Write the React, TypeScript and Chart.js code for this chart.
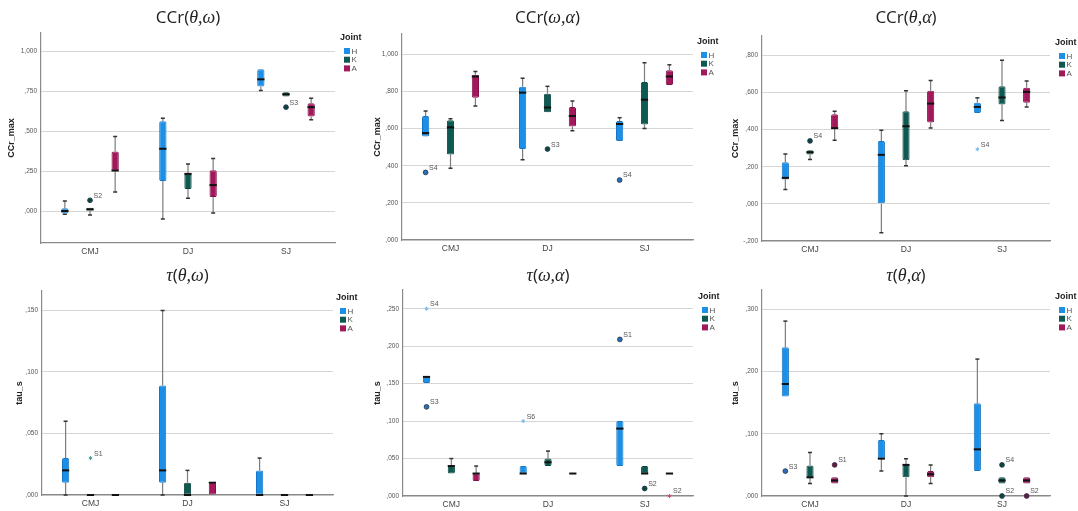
import React, { useEffect, useRef } from "react";
import { Chart, registerables } from "chart.js";
Chart.register(...registerables);

// ---------- DATA ----------
const categories = ["CMJ", "DJ", "SJ"];
const joints = ["H", "K", "A"];

// five-number summaries [min, q1, median, q3, max] for CMJ, DJ, SJ
const ccrThetaOmegaH = [[-0.02, -0.015, 0.0, 0.017, 0.062], [-0.05, 0.187, 0.389, 0.561, 0.58], [0.753, 0.778, 0.823, 0.886, 0.886]];
const ccrThetaOmegaK = [[-0.025, 0.0, 0.01, 0.02, 0.02], [0.079, 0.137, 0.232, 0.233, 0.293], [0.715, 0.715, 0.73, 0.742, 0.742]];
const ccrThetaOmegaA = [[0.118, 0.252, 0.253, 0.372, 0.466], [-0.012, 0.087, 0.162, 0.254, 0.328], [0.57, 0.59, 0.649, 0.674, 0.705]];

const ccrOmegaAlphaH = [[0.558, 0.558, 0.576, 0.668, 0.695], [0.433, 0.49, 0.794, 0.826, 0.871], [0.533, 0.533, 0.625, 0.641, 0.659]];
const ccrOmegaAlphaK = [[0.386, 0.461, 0.607, 0.645, 0.653], [0.689, 0.689, 0.714, 0.788, 0.828], [0.601, 0.623, 0.756, 0.851, 0.955]];
const ccrOmegaAlphaA = [[0.722, 0.767, 0.881, 0.89, 0.908], [0.589, 0.612, 0.668, 0.716, 0.749], [0.835, 0.835, 0.881, 0.914, 0.944]];

const ccrThetaAlphaH = [[0.077, 0.131, 0.14, 0.224, 0.269], [-0.156, 0.0, 0.264, 0.339, 0.397], [0.49, 0.49, 0.522, 0.544, 0.571]];
const ccrThetaAlphaK = [[0.239, 0.266, 0.278, 0.289, 0.289], [0.205, 0.235, 0.418, 0.499, 0.609], [0.449, 0.535, 0.573, 0.634, 0.774]];
const ccrThetaAlphaA = [[0.343, 0.406, 0.408, 0.483, 0.499], [0.409, 0.438, 0.54, 0.609, 0.664], [0.522, 0.544, 0.603, 0.625, 0.661]];

const tauThetaOmegaH = [[0, 0.01, 0.02, 0.03, 0.06], [0, 0.01, 0.02, 0.089, 0.15], [0, 0, 0, 0.02, 0.03]];
const tauThetaOmegaK = [[0, 0, 0, 0, 0], [0, 0, 0, 0.01, 0.02], [0, 0, 0, 0, 0]];
const tauThetaOmegaA = [[0, 0, 0, 0, 0], [0, 0, 0.01, 0.01, 0.01], [0, 0, 0, 0, 0]];

const tauOmegaAlphaH = [[0.151, 0.151, 0.159, 0.16, 0.16], [0.03, 0.03, 0.03, 0.04, 0.04], [0.04, 0.04, 0.09, 0.1, 0.1]];
const tauOmegaAlphaK = [[0.03, 0.03, 0.04, 0.04, 0.05], [0.04, 0.04, 0.045, 0.05, 0.06], [0.03, 0.03, 0.03, 0.04, 0.04]];
const tauOmegaAlphaA = [[0.02, 0.02, 0.03, 0.03, 0.04], [0.03, 0.03, 0.03, 0.03, 0.03], [0.03, 0.03, 0.03, 0.03, 0.03]];

const tauThetaAlphaH = [[0.16, 0.16, 0.18, 0.239, 0.281], [0.04, 0.06, 0.06, 0.09, 0.1], [0.04, 0.04, 0.075, 0.149, 0.22]];
const tauThetaAlphaK = [[0.02, 0.03, 0.03, 0.049, 0.07], [0, 0.03, 0.05, 0.05, 0.06], [0.02, 0.02, 0.025, 0.03, 0.03]];
const tauThetaAlphaA = [[0.02, 0.02, 0.025, 0.03, 0.03], [0.02, 0.03, 0.035, 0.04, 0.05], [0.02, 0.02, 0.025, 0.03, 0.03]];

// outliers: [categoryIndex, jointIndex, value, label, extreme(star)]
type Outlier = [number, number, number, string, boolean];
const ccrThetaOmegaOut: Outlier[] = [[0, 1, 0.067, "S2", false], [2, 1, 0.649, "S3", false]];
const ccrOmegaAlphaOut: Outlier[] = [[0, 0, 0.364, "S4", false], [1, 1, 0.49, "S3", false], [2, 0, 0.323, "S4", false]];
const ccrThetaAlphaOut: Outlier[] = [[0, 1, 0.339, "S4", false], [2, 0, 0.294, "S4", true]];
const tauThetaOmegaOut: Outlier[] = [[0, 1, 0.03, "S1", true]];
const tauOmegaAlphaOut: Outlier[] = [[0, 0, 0.25, "S4", true], [0, 0, 0.119, "S3", false], [1, 0, 0.1, "S6", true], [2, 0, 0.209, "S1", false], [2, 1, 0.01, "S2", false], [2, 2, 0.0, "S2", true]];
const tauThetaAlphaOut: Outlier[] = [[0, 0, 0.04, "S3", false], [0, 2, 0.05, "S1", false], [2, 1, 0.05, "S4", false], [2, 1, 0.0, "S2", false], [2, 2, 0.0, "S2", false]];

// y-axis tick values and ranges
const ccrThetaOmegaTicks = [0, 0.25, 0.5, 0.75, 1.0];
const ccrOmegaAlphaTicks = [0, 0.2, 0.4, 0.6, 0.8, 1.0];
const ccrThetaAlphaTicks = [-0.2, 0, 0.2, 0.4, 0.6, 0.8];
const tauThetaOmegaTicks = [0, 0.05, 0.1, 0.15];
const tauOmegaAlphaTicks = [0, 0.05, 0.1, 0.15, 0.2, 0.25];
const tauThetaAlphaTicks = [0, 0.1, 0.2, 0.3];
const yRanges = [[-0.2, 1.1125], [0, 1.11], [-0.2, 0.904], [0, 0.1658], [0, 0.275], [0, 0.331]];

const yTitles = ["CCr_max", "CCr_max", "CCr_max", "tau_s", "tau_s", "tau_s"];
const legendTitle = "Joint";
// title parts: [text, isMathItalic]
const titles: [string, boolean][][] = [
  [["CCr(", false], ["θ,ω", true], [")", false]],
  [["CCr(", false], ["ω,α", true], [")", false]],
  [["CCr(", false], ["θ,α", true], [")", false]],
  [["τ", true], ["(", false], ["θ,ω", true], [")", false]],
  [["τ", true], ["(", false], ["ω,α", true], [")", false]],
  [["τ", true], ["(", false], ["θ,α", true], [")", false]],
];

// ---------- STYLE / LAYOUT ----------
const jointFill = ["#1C8FE6", "#0E5A52", "#A3175B"];
const jointEdge = ["#1676C4", "#0A443E", "#84114A"];
const outFill = ["#2A6FB8", "#0C4640", "#7A1244"];
const starColor = ["#6DB9F0", "#4F9E96", "#C0507F"];

interface Layout {
  c: [number, number, number, number]; // canvas x, y, w, h
  p: [number, number, number, number]; // plot l, r, t, b
  ytx: number; // y title x
  ty: number; // title y
  lg: [number, number]; // legend x, y
}
const layouts: Layout[] = [
  { c: [0, 0, 380, 255], p: [41, 335, 33, 243], ytx: 12, ty: 18, lg: [340, 38] },
  { c: [359, 0, 380, 255], p: [402, 693, 34, 240], ytx: 378, ty: 18, lg: [697, 42] },
  { c: [718, 0, 360, 255], p: [762, 1050, 36, 241], ytx: 736, ty: 18, lg: [1055, 43] },
  { c: [0, 255, 380, 256], p: [42, 333, 291, 495], ytx: 20, ty: 276, lg: [336, 298] },
  { c: [359, 255, 380, 256], p: [403, 693, 290, 496], ytx: 378, ty: 276, lg: [698, 297] },
  { c: [718, 255, 360, 256], p: [762, 1050, 290, 496], ytx: 736, ty: 276, lg: [1055, 297] },
];

const summaries = [
  [ccrThetaOmegaH, ccrThetaOmegaK, ccrThetaOmegaA],
  [ccrOmegaAlphaH, ccrOmegaAlphaK, ccrOmegaAlphaA],
  [ccrThetaAlphaH, ccrThetaAlphaK, ccrThetaAlphaA],
  [tauThetaOmegaH, tauThetaOmegaK, tauThetaOmegaA],
  [tauOmegaAlphaH, tauOmegaAlphaK, tauOmegaAlphaA],
  [tauThetaAlphaH, tauThetaAlphaK, tauThetaAlphaA],
];
const outliers = [ccrThetaOmegaOut, ccrOmegaAlphaOut, ccrThetaAlphaOut, tauThetaOmegaOut, tauOmegaAlphaOut, tauThetaAlphaOut];
const tickSets = [ccrThetaOmegaTicks, ccrOmegaAlphaTicks, ccrThetaAlphaTicks, tauThetaOmegaTicks, tauOmegaAlphaTicks, tauThetaAlphaTicks];

const SANS = "'Liberation Sans', Arial, sans-serif";

function fmt(v: number): string {
  const parts = Math.abs(v).toFixed(3).split(".");
  const ip = parts[0] === "0" ? "" : parts[0];
  return (v < -1e-9 ? "-" : "") + ip + "," + parts[1];
}

function makePlugin(idx: number) {
  const L = layouts[idx];
  const sums = summaries[idx];
  const outs = outliers[idx];
  return {
    id: "boxExtras" + idx,
    beforeDatasetsDraw(chart: any) {
      const ctx = chart.ctx;
      const ys = chart.scales.y;
      ctx.save();
      sums.forEach((series, di) => {
        const meta = chart.getDatasetMeta(di);
        series.forEach((s, j) => {
          const el = meta.data[j];
          if (!el) return;
          const x = el.x;
          ctx.strokeStyle = "#7d7d7d";
          ctx.lineWidth = 1.2;
          ctx.beginPath();
          if (s[4] > s[3]) {
            ctx.moveTo(x, ys.getPixelForValue(s[4]));
            ctx.lineTo(x, ys.getPixelForValue(s[3]));
          }
          if (s[0] < s[1]) {
            ctx.moveTo(x, ys.getPixelForValue(s[1]));
            ctx.lineTo(x, ys.getPixelForValue(s[0]));
          }
          ctx.stroke();
          ctx.strokeStyle = "#333";
          ctx.lineWidth = 1.5;
          ctx.beginPath();
          if (s[4] > s[3]) {
            const y = ys.getPixelForValue(s[4]);
            ctx.moveTo(x - 2, y);
            ctx.lineTo(x + 2, y);
          }
          if (s[0] < s[1]) {
            const y = ys.getPixelForValue(s[0]);
            ctx.moveTo(x - 2, y);
            ctx.lineTo(x + 2, y);
          }
          ctx.stroke();
        });
      });
      ctx.restore();
    },
    afterDatasetsDraw(chart: any) {
      const ctx = chart.ctx;
      const ys = chart.scales.y;
      ctx.save();
      // medians
      sums.forEach((series, di) => {
        const meta = chart.getDatasetMeta(di);
        series.forEach((s, j) => {
          const el = meta.data[j];
          if (!el) return;
          const y = ys.getPixelForValue(s[2]);
          ctx.strokeStyle = "#111";
          ctx.lineWidth = 2;
          ctx.beginPath();
          ctx.moveTo(el.x - el.width / 2, y);
          ctx.lineTo(el.x + el.width / 2, y);
          ctx.stroke();
        });
      });
      // outliers
      outs.forEach(([ci, ji, v, lab, star]) => {
        const el = chart.getDatasetMeta(ji).data[ci];
        if (!el) return;
        const x = el.x;
        const y = ys.getPixelForValue(v);
        if (star) {
          ctx.strokeStyle = starColor[ji];
          ctx.lineWidth = 1;
          ctx.beginPath();
          for (let k = 0; k < 3; k++) {
            const a = (Math.PI / 3) * k + Math.PI / 2;
            ctx.moveTo(x - 2 * Math.cos(a), y - 2 * Math.sin(a));
            ctx.lineTo(x + 2 * Math.cos(a), y + 2 * Math.sin(a));
          }
          ctx.stroke();
        } else {
          ctx.fillStyle = outFill[ji];
          ctx.strokeStyle = "#1d2f45";
          ctx.lineWidth = 0.8;
          ctx.beginPath();
          ctx.arc(x, y, 2.4, 0, Math.PI * 2);
          ctx.fill();
          ctx.stroke();
        }
        ctx.fillStyle = "#555";
        ctx.font = "7px " + SANS;
        ctx.textAlign = "left";
        ctx.textBaseline = "middle";
        ctx.fillText(lab, x + 3.5, y - 4.5);
      });
      ctx.restore();
    },
    afterDraw(chart: any) {
      const ctx = chart.ctx;
      const ox = L.c[0];
      const oy = L.c[1];
      ctx.save();
      // title
      const parts = titles[idx];
      const fonts = parts.map(([, it]) => (it ? "italic 18px 'Liberation Serif', serif" : "17px 'Open Sans', sans-serif"));
      let total = 0;
      const widths = parts.map(([t], k) => {
        ctx.font = fonts[k];
        const w = ctx.measureText(t).width;
        total += w;
        return w;
      });
      let tx = (L.p[0] + L.p[1]) / 2 - ox - total / 2;
      ctx.fillStyle = "#222";
      ctx.textBaseline = "middle";
      ctx.textAlign = "left";
      parts.forEach(([t], k) => {
        ctx.font = fonts[k];
        ctx.fillText(t, tx, L.ty - oy);
        tx += widths[k];
      });
      // legend
      const lx = L.lg[0] - ox;
      const ly = L.lg[1] - oy;
      ctx.font = "bold 9px " + SANS;
      ctx.fillStyle = "#222";
      ctx.fillText(legendTitle, lx, ly);
      joints.forEach((j, k) => {
        const yy = ly + 13 + k * 8.7;
        ctx.fillStyle = jointFill[k];
        ctx.fillRect(lx + 4, yy - 3, 6, 6);
        ctx.fillStyle = "#555";
        ctx.font = "8px " + SANS;
        ctx.fillText(j, lx + 11.5, yy + 0.5);
      });
      ctx.restore();
    },
  };
}

function Panel({ idx }: { idx: number }) {
  const ref = useRef<HTMLCanvasElement | null>(null);
  const L = layouts[idx];
  useEffect(() => {
    if (!ref.current) return;
    const [cx, cy, cw, ch] = L.c;
    const [pl, pr, pt, pb] = L.p;
    const ticks = tickSets[idx];
    const [ymin, ymax] = yRanges[idx];
    const yTitleSize = 9;
    const padTop = L.ytx - cx - (yTitleSize * 1.2) / 2;
    const chart = new Chart(ref.current, {
      type: "bar",
      data: {
        labels: categories,
        datasets: summaries[idx].map((series, k) => ({
          label: joints[k],
          data: series.map((s) => [s[1], s[3]]),
          backgroundColor: jointFill[k],
          borderColor: jointEdge[k],
          borderWidth: 1,
          borderSkipped: false,
          borderRadius: 1.5,
          categoryPercentage: 0.77,
          barPercentage: 0.29,
        })) as any,
      },
      options: {
        responsive: false,
        animation: false,
        events: [],
        layout: {
          padding: { left: 0, top: pt - cy, right: cx + cw - pr, bottom: 0 },
        },
        plugins: {
          legend: { display: false },
          title: { display: false },
          tooltip: { enabled: false },
        },
        scales: {
          x: {
            grid: { display: false, drawTicks: false },
            border: { display: true, color: "#8a8a8a", width: 1.2 },
            ticks: { color: "#444", font: { size: 8.5, family: SANS }, padding: 4 },
            afterFit: (s: any) => {
              s.height = cy + ch - pb;
            },
          },
          y: {
            min: ymin,
            max: ymax,
            grid: { display: true, drawTicks: false, color: "#d6d6d6", lineWidth: 1 },
            border: { display: true, color: "#8a8a8a", width: 1.2 },
            ticks: {
              color: "#555",
              font: { size: 6.5, family: SANS },
              padding: 4,
              callback: (v: any) => fmt(Number(v)),
            },
            title: {
              display: true,
              text: yTitles[idx],
              color: "#222",
              font: { size: yTitleSize, weight: "bold", family: SANS },
              padding: { top: padTop, bottom: 0 },
            },
            afterBuildTicks: (s: any) => {
              s.ticks = ticks.map((v) => ({ value: v }));
            },
            afterFit: (s: any) => {
              s.width = pl - cx;
            },
          },
        },
      } as any,
      plugins: [makePlugin(idx)],
    });
    return () => chart.destroy();
  }, [idx]);
  return (
    <canvas
      ref={ref}
      width={L.c[2]}
      height={L.c[3]}
      style={{ position: "absolute", left: L.c[0], top: L.c[1], width: L.c[2], height: L.c[3] }}
    />
  );
}

export default function App() {
  return (
    <div style={{ position: "absolute", left: 0, top: 0, width: 1078, height: 511, background: "#fff", overflow: "hidden" }}>
      {layouts.map((_, i) => (
        <Panel key={i} idx={i} />
      ))}
    </div>
  );
}
